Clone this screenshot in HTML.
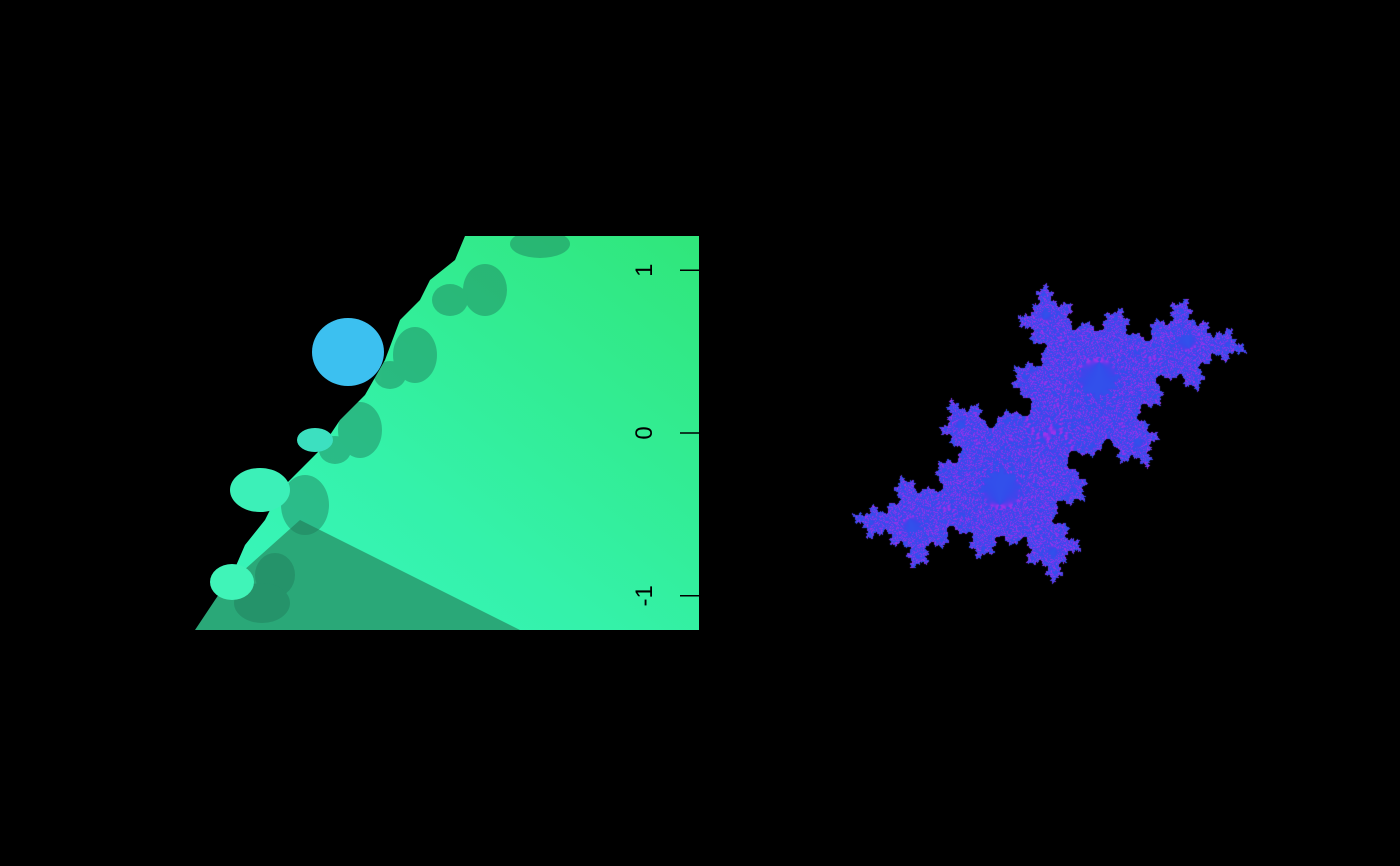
<!DOCTYPE html>
<html><head><meta charset="utf-8"><style>
html,body{margin:0;padding:0;background:#000;width:1400px;height:866px;overflow:hidden}
#wrap{position:relative;width:1400px;height:866px}
svg,canvas{position:absolute;left:0;top:0}
</style></head><body>
<div id="wrap">
<svg id="left" width="1400" height="866">
<defs>
<linearGradient id="g" x1="1" y1="0" x2="0" y2="1">
<stop offset="0" stop-color="#30e67a"/><stop offset="0.6" stop-color="#34f2aa"/><stop offset="1" stop-color="#3af6c0"/>
</linearGradient>
<clipPath id="clip"><rect x="177" y="236" width="522" height="394"/></clipPath>
</defs>
<g clip-path="url(#clip)">
<rect x="177" y="236" width="522" height="394" fill="url(#g)"/>
<polygon points="177,630 300,520 520,630" fill="#2aa878"/>
<g fill="#1f7a5a" opacity="0.45">
<ellipse cx="540" cy="244" rx="30" ry="14"/><ellipse cx="485" cy="290" rx="22" ry="26"/>
<ellipse cx="450" cy="300" rx="18" ry="16"/><ellipse cx="415" cy="355" rx="22" ry="28"/>
<ellipse cx="390" cy="375" rx="16" ry="14"/><ellipse cx="360" cy="430" rx="22" ry="28"/>
<ellipse cx="335" cy="450" rx="16" ry="14"/><ellipse cx="305" cy="505" rx="24" ry="30"/>
<ellipse cx="275" cy="575" rx="20" ry="22"/><ellipse cx="262" cy="603" rx="28" ry="20"/>
</g>
<polygon points="177,236 465,236 455,260 430,280 420,300 400,320 385,360 365,395 340,420 320,450 300,470 280,490 265,520 245,545 232,575 215,600 195,630 177,630" fill="#000"/>
<ellipse cx="348" cy="352" rx="36" ry="34" fill="#3cc0f0"/>
<ellipse cx="260" cy="490" rx="30" ry="22" fill="#3cf0b8"/>
<ellipse cx="232" cy="582" rx="22" ry="18" fill="#40f4b8"/>
<ellipse cx="315" cy="440" rx="18" ry="12" fill="#3ce0c0"/>
</g>
<g id="axis"></g>
</svg>
<canvas id="julia" width="1400" height="866"></canvas>
</div>
<script>
const yTicks = [-1, 0, 1];
const yTickLabels = ["-1", "0", "1"];
const yRange = [-1.21, 1.21];
const top0 = 236, bot0 = 630;
function yScale(v){ return bot0 - (v - yRange[0]) / (yRange[1] - yRange[0]) * (bot0 - top0); }
const ns = "http://www.w3.org/2000/svg";
const ax = document.getElementById('axis');
yTicks.forEach((t, i) => {
  const y = yScale(t);
  const l = document.createElementNS(ns, 'line');
  l.setAttribute('x1', 680); l.setAttribute('x2', 699);
  l.setAttribute('y1', y); l.setAttribute('y2', y);
  l.setAttribute('stroke', '#000'); l.setAttribute('stroke-width', 1.5);
  
  
  ax.appendChild(l);
  const tx = document.createElementNS(ns, 'text');
  tx.setAttribute('x', 0); tx.setAttribute('y', 0);
  tx.setAttribute('transform', 'translate(652,' + y + ') rotate(-90)');
  tx.setAttribute('text-anchor', 'middle');
  tx.setAttribute('font-family', 'Liberation Sans, sans-serif');
  tx.setAttribute('font-size', '24');
  tx.setAttribute('fill', '#000');
  tx.textContent = yTickLabels[i];
  
  
  ax.appendChild(tx);
});
// Julia set (mirrored and rotated to match orientation)
const cv = document.getElementById('julia');
const ctx = cv.getContext('2d');
const x0 = 830, y0 = 240, W = 440, H = 390;
const img = ctx.createImageData(W, H);
const cRe = -0.4, cIm = 0.6, scale = 150, cx = 1049, cy = 433;
const rot = 0.14, cs = Math.cos(rot), sn = Math.sin(rot);
for (let py = 0; py < H; py++) {
  for (let px = 0; px < W; px++) {
    const dx = -(x0 + px - cx) / scale, dy = (cy - (y0 + py)) / scale;
    let zr = dx*cs - dy*sn, zi = dx*sn + dy*cs;
    let k = 0, esc = false;
    for (; k < 80; k++) {
      const r2 = zr*zr + zi*zi;
      if (r2 > 4) { esc = true; break; }
      const t = zr*zr - zi*zi + cRe; zi = 2*zr*zi + cIm; zr = t;
    }
    const o = (py*W + px)*4;
    if (!esc || k > 14) {
      const a = Math.atan2(zi, zr);
      const p = 0.5 + 0.5*Math.sin(a*2);
      img.data[o] = 50 + 110*p*p; img.data[o+1] = 50 + 30*(1-p); img.data[o+2] = 235;
      img.data[o+3] = 255;
    } else { img.data[o+3] = 0; }
  }
}
ctx.putImageData(img, x0, y0);
</script>
</body></html>
